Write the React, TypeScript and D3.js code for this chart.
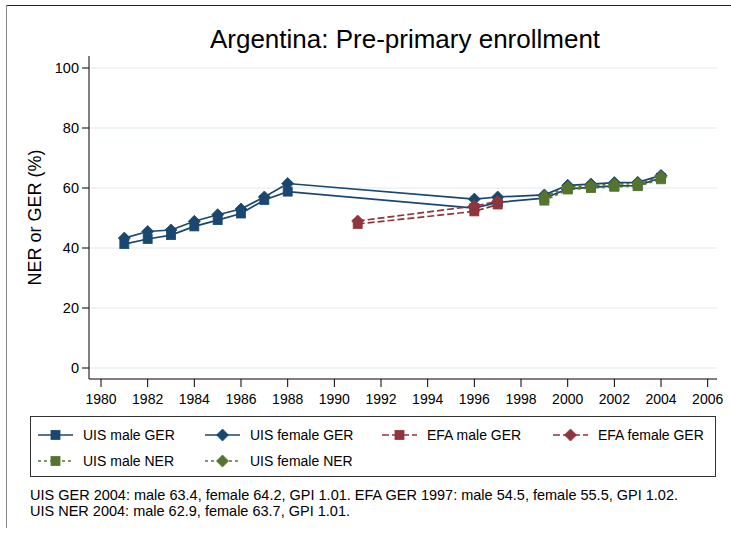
import React from 'react';
import * as d3 from 'd3';

// chart data
const gerYears = [1981, 1982, 1983, 1984, 1985, 1986, 1987, 1988, 1996, 1997, 1999, 2000, 2001, 2002, 2003, 2004];
const uisMaleGer = [41.3, 43.0, 44.3, 47.2, 49.3, 51.5, 56.0, 58.8, 53.3, 55.2, 56.6, 59.7, 60.2, 60.7, 60.8, 63.4];
const uisFemaleGer = [43.3, 45.5, 46.0, 48.9, 51.1, 53.0, 57.0, 61.5, 56.3, 57.0, 57.7, 60.9, 61.3, 61.8, 61.9, 64.2];

const efaYears = [1991, 1996, 1997];
const efaMaleGer = [48.0, 52.2, 54.5];
const efaFemaleGer = [49.0, 54.0, 55.5];

const nerYears = [1999, 2000, 2001, 2002, 2003, 2004];
const uisMaleNer = [55.8, 59.5, 60.0, 60.4, 60.6, 62.9];
const uisFemaleNer = [57.2, 60.3, 60.8, 61.3, 61.5, 63.7];

const xTicks = d3.range(1980, 2007, 2);
const yTicks = [0, 20, 40, 60, 80, 100];

const notes = [
  'UIS GER 2004: male 63.4, female 64.2, GPI 1.01. EFA GER 1997: male 54.5, female 55.5, GPI 1.02.',
  'UIS NER 2004: male 62.9, female 63.7, GPI 1.01.',
];

const NAVY = '#1a476f';
const MAROON = '#90353b';
const GREEN = '#55752f';

type Series = {
  label: string;
  years: number[];
  values: number[];
  color: string;
  dash: string;
  shape: 'square' | 'diamond';
};

const series: Series[] = [
  { label: 'UIS male GER', years: gerYears, values: uisMaleGer, color: NAVY, dash: '', shape: 'square' },
  { label: 'UIS female GER', years: gerYears, values: uisFemaleGer, color: NAVY, dash: '', shape: 'diamond' },
  { label: 'EFA male GER', years: efaYears, values: efaMaleGer, color: MAROON, dash: '7,3', shape: 'square' },
  { label: 'EFA female GER', years: efaYears, values: efaFemaleGer, color: MAROON, dash: '7,3', shape: 'diamond' },
  { label: 'UIS male NER', years: nerYears, values: uisMaleNer, color: GREEN, dash: '3,3', shape: 'square' },
  { label: 'UIS female NER', years: nerYears, values: uisFemaleNer, color: GREEN, dash: '3,3', shape: 'diamond' },
];

const FONT = '"Liberation Sans", Arial, sans-serif';

const Marker = ({ x, y, shape, color }: { x: number; y: number; shape: string; color: string }) =>
  shape === 'square' ? (
    <rect x={x - 4.5} y={y - 4.5} width={9} height={9} fill={color} stroke={color} strokeWidth={0.8} />
  ) : (
    <path d={`M${x},${y - 6}L${x + 6},${y}L${x},${y + 6}L${x - 6},${y}Z`} fill={color} stroke={color} strokeWidth={0.8} />
  );

export default function App() {
  const width = 731;
  const height = 538;
  const plot = { left: 89, right: 717, top: 56, bottom: 379 };

  const x = d3.scaleLinear().domain([1980, 2006]).range([101, 707.7]);
  const y = d3.scaleLinear().domain([0, 100]).range([368, 68]);

  const line = d3
    .line<[number, number]>()
    .x((d) => x(d[0]))
    .y((d) => y(d[1]));

  const legendCols = [38, 205, 382, 553];
  const legendRows = [435, 461];

  return (
    <svg
      width={width}
      height={height}
      style={{ position: 'fixed', left: 0, top: 0, background: '#fff' }}
      fontFamily={FONT}
    >
      <rect width={width} height={height} fill="#fff" />
      {/* outer frame */}
      <line x1={6} y1={5.5} x2={width} y2={5.5} stroke="#222" strokeWidth={1.2} />
      <line x1={6.5} y1={5} x2={6.5} y2={528} stroke="#888" strokeWidth={1} />

      <text x={405} y={48} textAnchor="middle" fontSize={26} fill="#000">
        Argentina: Pre-primary enrollment
      </text>

      {/* gridlines */}
      {yTicks.map((t) => (
        <line key={`g${t}`} x1={plot.left + 1} x2={plot.right} y1={y(t)} y2={y(t)} stroke="#eaf2f3" strokeWidth={1.5} />
      ))}

      {/* y axis */}
      <line x1={plot.left} x2={plot.left} y1={plot.top} y2={plot.bottom} stroke="#000" strokeWidth={1} />
      {yTicks.map((t) => (
        <g key={`y${t}`}>
          <line x1={plot.left - 7} x2={plot.left} y1={y(t)} y2={y(t)} stroke="#000" />
          <text x={plot.left - 10} y={y(t)} dy="0.35em" textAnchor="end" fontSize={14.5} fill="#000">
            {t}
          </text>
        </g>
      ))}
      <text
        transform={`translate(41,${(plot.top + plot.bottom) / 2}) rotate(-90)`}
        textAnchor="middle"
        fontSize={18}
        fill="#000"
      >
        NER or GER (%)
      </text>

      {/* x axis */}
      <line x1={plot.left} x2={plot.right} y1={plot.bottom} y2={plot.bottom} stroke="#000" strokeWidth={1} />
      {xTicks.map((t) => (
        <g key={`x${t}`}>
          <line x1={x(t)} x2={x(t)} y1={plot.bottom} y2={plot.bottom + 8} stroke="#000" />
          <text x={x(t)} y={plot.bottom + 20} dy="0.35em" textAnchor="middle" fontSize={14} fill="#000">
            {t}
          </text>
        </g>
      ))}

      {/* series */}
      {series.map((s) => {
        const pts = s.years.map((yr, i) => [yr, s.values[i]] as [number, number]);
        return (
          <g key={s.label}>
            <path d={line(pts) ?? ''} fill="none" stroke={s.color} strokeWidth={1.7} strokeDasharray={s.dash} />
            {pts.map((p) => (
              <Marker key={p[0]} x={x(p[0])} y={y(p[1])} shape={s.shape} color={s.color} />
            ))}
          </g>
        );
      })}

      {/* legend */}
      <rect x={30.5} y={416.5} width={685} height={60} fill="#fff" stroke="#333" strokeWidth={1} />
      {series.map((s, i) => {
        const cx = legendCols[i % 4];
        const cy = legendRows[Math.floor(i / 4)];
        return (
          <g key={`l${s.label}`}>
            <line x1={cx} x2={cx + 35} y1={cy} y2={cy} stroke={s.color} strokeWidth={1.7} strokeDasharray={s.dash} />
            <Marker x={cx + 17.5} y={cy} shape={s.shape} color={s.color} />
            <text x={cx + 45} y={cy} dy="0.35em" fontSize={14} fill="#000">
              {s.label}
            </text>
          </g>
        );
      })}

      {/* notes */}
      {notes.map((n, i) => (
        <text key={n} x={30} y={500 + i * 16} fontSize={14.5} fill="#000">
          {n}
        </text>
      ))}
    </svg>
  );
}
